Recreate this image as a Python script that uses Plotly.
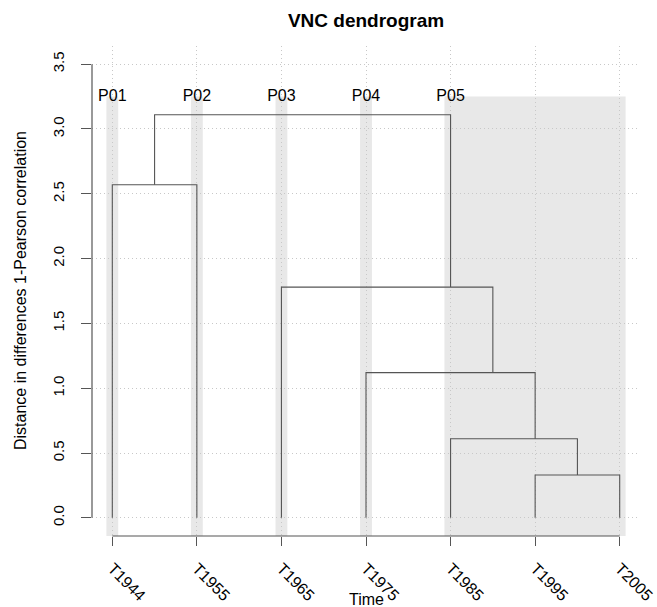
import plotly.graph_objects as go

# ---- data ----
time_labels = ["T1944", "T1955", "T1965", "T1975", "T1985", "T1995", "T2005"]
period_labels = ["P01", "P02", "P03", "P04", "P05"]
period_pos = [1, 2, 3, 4, 5]
# R-style merge matrix: negative = leaf index, positive = earlier merge (1-based)
merge_left = [-6, -5, -4, -3, -1, 5]
merge_right = [-7, 1, 2, 3, -2, 4]
merge_height = [0.33, 0.61, 1.12, 1.78, 2.57, 3.11]
merge_xpos = [6.5, 6.0, 5.5, 5.0, 1.5, 3.25]
y_ticks = [0.0, 0.5, 1.0, 1.5, 2.0, 2.5, 3.0, 3.5]

# ---- build dendrogram segments ----
xs, ys = [], []

def child_info(c):
    if c < 0:
        return float(-c), 0.0
    return merge_xpos[c - 1], merge_height[c - 1]

for l, r, h in zip(merge_left, merge_right, merge_height):
    lx, lh = child_info(l)
    rx, rh = child_info(r)
    xs += [lx, lx, rx, rx, None]
    ys += [lh, h, h, rh, None]

line_col = "#555555"
fig = go.Figure()
fig.add_trace(go.Scatter(x=xs, y=ys, mode="lines",
                         line=dict(color=line_col, width=1.1),
                         hoverinfo="skip", showlegend=False))
fig.add_trace(go.Scatter(x=period_pos, y=[3.25] * len(period_pos), mode="text",
                         text=period_labels, textposition="middle center",
                         textfont=dict(size=16, color="black"),
                         hoverinfo="skip", showlegend=False, cliponaxis=False))

xr = [0.76, 7.24]
yr = [-0.14, 3.64]
shapes = []
bw = 0.07
for p in period_pos:
    shapes.append(dict(type="rect", xref="x", yref="y", x0=p - bw, x1=p + bw,
                       y0=yr[0], y1=3.25, fillcolor="#e8e8e8",
                       line=dict(width=0), layer="below"))
shapes.append(dict(type="rect", xref="x", yref="y", x0=5 - bw, x1=7 + bw,
                   y0=yr[0], y1=3.25, fillcolor="#e8e8e8",
                   line=dict(width=0), layer="below"))
# R-style axis lines spanning tick range
shapes.append(dict(type="line", xref="paper", yref="y", x0=0, x1=0,
                   y0=y_ticks[0], y1=y_ticks[-1], line=dict(color=line_col, width=1.2)))
shapes.append(dict(type="line", xref="x", yref="paper", x0=1, x1=len(time_labels),
                   y0=0, y1=0, line=dict(color=line_col, width=1.2)))

font = "Liberation Sans, Arial, Helvetica, sans-serif"
grid = dict(showgrid=True, gridcolor="#c8c8c8", griddash="1px,3px", gridwidth=1)
fig.update_layout(
    width=657, height=607,
    margin=dict(l=92, r=17, t=46, b=71, autoexpand=False),
    paper_bgcolor="white", plot_bgcolor="white",
    font=dict(family=font, size=15, color="black"),
    title=dict(text="<b>VNC dendrogram</b>", x=0.5, xref="paper", xanchor="center",
               y=1 - 20 / 607, yref="container", yanchor="middle", font=dict(size=19)),
    shapes=shapes,
    annotations=[
        dict(text="Distance in differences 1-Pearson correlation", xref="paper", yref="paper",
             x=0, y=0.5, xshift=-72, xanchor="center", yanchor="middle",
             textangle=-90, showarrow=False, font=dict(size=16)),
        dict(text="Time", xref="paper", yref="paper", x=0.5, y=0, yshift=-63,
             xanchor="center", yanchor="middle", showarrow=False, font=dict(size=16)),
    ],
    xaxis=dict(range=xr, tickmode="array",
               tickvals=list(range(1, len(time_labels) + 1)),
               ticktext=time_labels, tickangle=45, automargin=False,
               tickfont=dict(size=16),
               ticks="outside", ticklen=9, tickcolor=line_col, ticklabelstandoff=7,
               showline=False, zeroline=False, **grid),
    yaxis=dict(range=yr, tickmode="array", tickvals=y_ticks, automargin=False,
               ticktext=[f"{v:.1f}" for v in y_ticks], tickangle=-90,
               ticks="outside", ticklen=10, tickcolor=line_col, ticklabelstandoff=11,
               showline=False, zeroline=False, **grid),
)

fig.write_html("out.html", config={"displayModeBar": False},
               post_script="document.body.style.margin='0';")
